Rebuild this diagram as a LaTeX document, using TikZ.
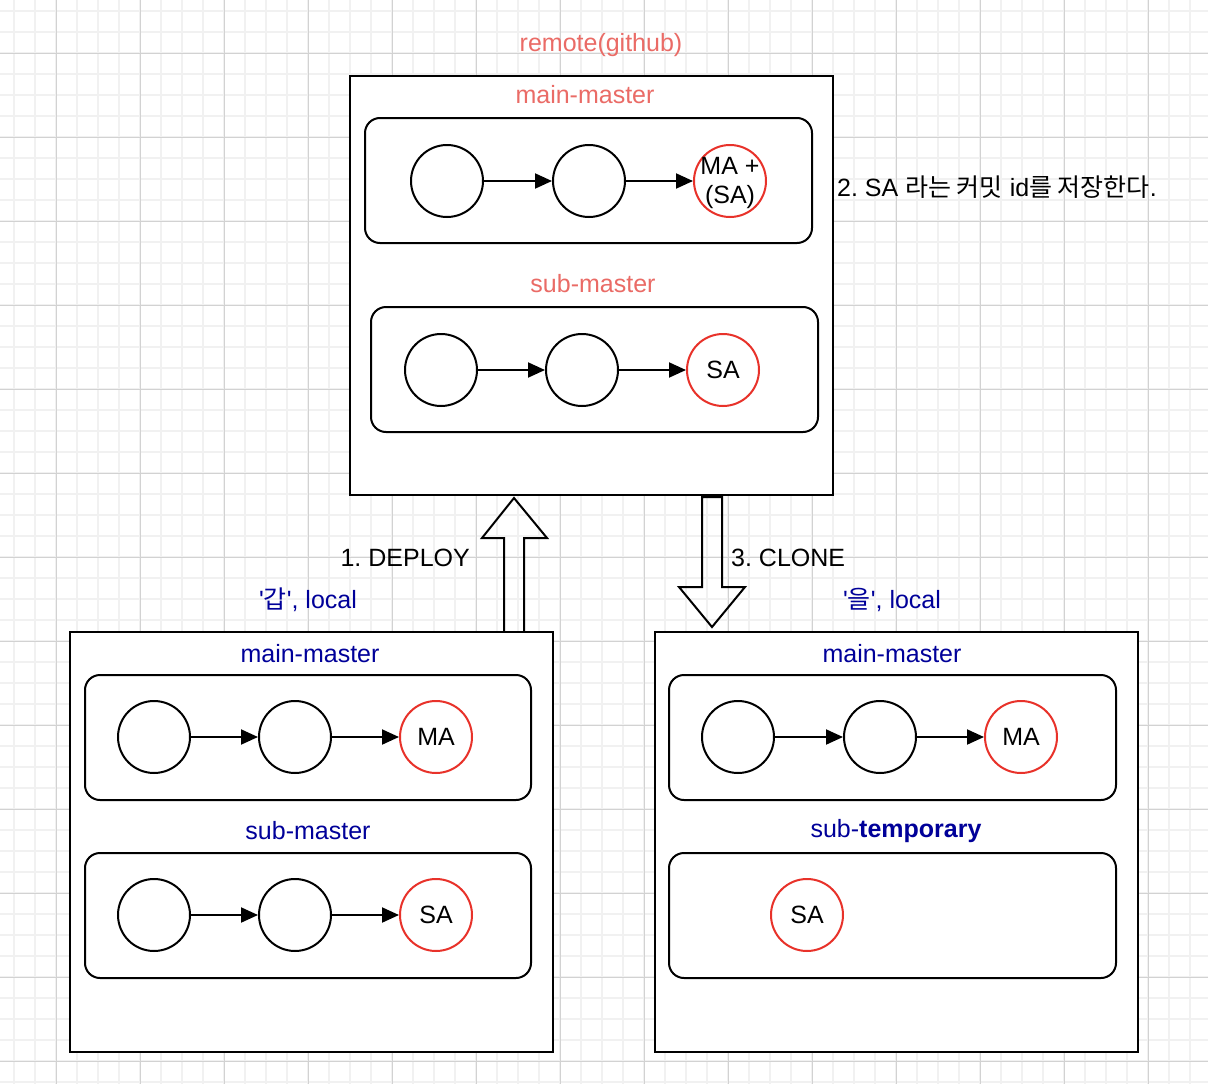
\documentclass[tikz,border=0pt]{standalone}
\usepackage{fontspec}
\setmainfont{Liberation Sans}
\newfontfamily\kr{Noto Sans CJK KR}
\usetikzlibrary{arrows.meta}
\frenchspacing
\definecolor{redtxt}{HTML}{EA6B66}
\definecolor{bluetxt}{HTML}{000099}
\definecolor{redring}{HTML}{E8322A}
\definecolor{minorgrid}{HTML}{F1F1F1}
\definecolor{majorgrid}{HTML}{D2D2D2}
\tikzset{
  outerbox/.style={draw=black, line width=2pt, fill=white},
  branchbox/.style={draw=black, line width=2pt, fill=white, rounded corners=15pt},
  commit/.style={circle, draw=black, line width=2pt, fill=white, minimum size=72pt, inner sep=0pt, font=\fontsize{25}{29}\selectfont, align=center},
  headcommit/.style={commit, draw=redring},
  lbl/.style={font=\fontsize{25}{30}\selectfont, inner sep=0pt},
  redlbl/.style={lbl, text=redtxt},
  bluelbl/.style={lbl, text=bluetxt},
  link/.style={line width=2pt, -{Triangle[length=17pt,width=15pt]}},
  blockarrow/.style={draw=black, line width=2pt, line join=miter}
}
\begin{document}
\begin{tikzpicture}[x=1pt,y=-1pt]
\useasboundingbox (0,0) rectangle (1208,1084);
% grid
\foreach \x in {14,35,...,1208} \draw[minorgrid, line width=2pt] (\x,0) -- (\x,1084);
\foreach \y in {11,32,...,1084} \draw[minorgrid, line width=2pt] (0,\y) -- (1208,\y);
\foreach \x in {56,140,...,1208} \draw[majorgrid, line width=1pt] (\x,0) -- (\x,1084);
\foreach \y in {53,137,...,1084} \draw[majorgrid, line width=1pt] (0,\y) -- (1208,\y);

% ---------- remote ----------
\node[redlbl] (remotelbl) at (601,45) {remote(github)};
\draw[outerbox] (350,76) rectangle (833,495);
\node[redlbl] (rmainlbl) at (585,95) {main-master};
\draw[branchbox] (365,118) rectangle (812,243);
\node[commit] (r1) at (447,181) {};
\node[commit] (r2) at (589,181) {};
\node[headcommit] (r3) at (730,181) {};
\node[lbl, align=center, font=\fontsize{25}{29}\selectfont] (r3txt) at (730,183) {MA +\\(SA)};
\draw[link] (r1) -- (r2);
\draw[link] (r2) -- (r3);
\node[redlbl] (rsublbl) at (593,284) {sub-master};
\draw[branchbox] (371,307) rectangle (818,432);
\node[commit] (s1) at (441,370) {};
\node[commit] (s2) at (582,370) {};
\node[headcommit] (s3) at (723,370) {SA};
\draw[link] (s1) -- (s2);
\draw[link] (s2) -- (s3);
\node[lbl, anchor=west] (note) at (837,187) {2. SA {\kr 라는 커밋} id{\kr 를 저장한다}.};

% ---------- arrows ----------
\draw[blockarrow] (504,632) -- (504,538) -- (482,538) -- (514,498) -- (547,538) -- (524,538) -- (524,632);
\node[lbl, anchor=east] (deploy) at (470,558) {1. DEPLOY};
\draw[blockarrow] (702,497) -- (702,587) -- (679,587) -- (712,627) -- (745,587) -- (722,587) -- (722,497) -- cycle;
\node[lbl, anchor=west] (clone) at (731,558) {3. CLONE};

% ---------- local A ----------
\node[bluelbl] (alocal) at (308,600) {\textquotesingle{\kr 갑}\textquotesingle, local};
\draw[outerbox] (70,632) rectangle (553,1052);
\node[bluelbl] (amainlbl) at (310,654) {main-master};
\draw[branchbox] (85,675) rectangle (531,800);
\node[commit] (a1) at (154,737) {};
\node[commit] (a2) at (295,737) {};
\node[headcommit] (a3) at (436,737) {MA};
\draw[link] (a1) -- (a2);
\draw[link] (a2) -- (a3);
\node[bluelbl] (asublbl) at (308,831) {sub-master};
\draw[branchbox] (85,853) rectangle (531,978);
\node[commit] (b1) at (154,915) {};
\node[commit] (b2) at (295,915) {};
\node[headcommit] (b3) at (436,915) {SA};
\draw[link] (b1) -- (b2);
\draw[link] (b2) -- (b3);

% ---------- local B ----------
\node[bluelbl] (blocal) at (892,600) {\textquotesingle{\kr 을}\textquotesingle, local};
\draw[outerbox] (655,632) rectangle (1138,1052);
\node[bluelbl] (bmainlbl) at (892,654) {main-master};
\draw[branchbox] (669,675) rectangle (1116,800);
\node[commit] (c1) at (738,737) {};
\node[commit] (c2) at (880,737) {};
\node[headcommit] (c3) at (1021,737) {MA};
\draw[link] (c1) -- (c2);
\draw[link] (c2) -- (c3);
\node[bluelbl] (btmplbl) at (896,831) {sub-\textbf{temporary}};
\draw[branchbox] (669,853) rectangle (1116,978);
\node[headcommit] (d1) at (807,915) {SA};
\end{tikzpicture}
\end{document}
